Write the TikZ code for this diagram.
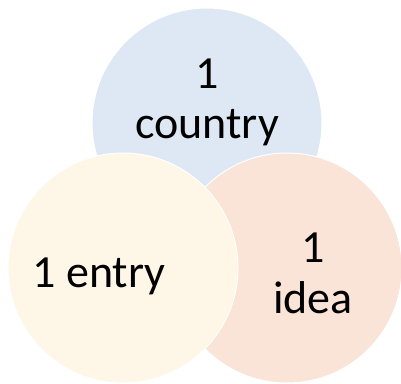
\documentclass[tikz,border=0pt]{standalone}
\usepackage{fontspec}
\setmainfont{Carlito}
\definecolor{countryblue}{HTML}{DEE8F4}
\definecolor{entryyellow}{HTML}{FEF6E6}
\definecolor{ideapeach}{HTML}{FAE3D7}
\tikzset{
    ring/.style={circle, draw=white, line width=1pt, minimum size=230pt, inner sep=0pt},
    label text/.style={anchor=base, font=\fontsize{46}{56}\selectfont, inner sep=0pt}
}
\begin{document}
\begin{tikzpicture}[x=1pt, y=-1pt]
        \useasboundingbox (0,0) rectangle (401,383);
        \node[ring, fill=countryblue] (country) at (207,123) {};
        \node[ring, fill=ideapeach] (idea) at (287,268) {};
        \node[ring, fill=entryyellow] (entry) at (123,268) {};
        \node[label text] (countrynum) at (207,88) {1};
        \node[label text] (countryword) at (207,138) {country};
        \node[label text] (entryword) at (99,287) {1 entry};
        \node[label text] (ideanum) at (313,262) {1};
        \node[label text] (ideaword) at (313,313) {idea};
    \end{tikzpicture}
\end{document}
